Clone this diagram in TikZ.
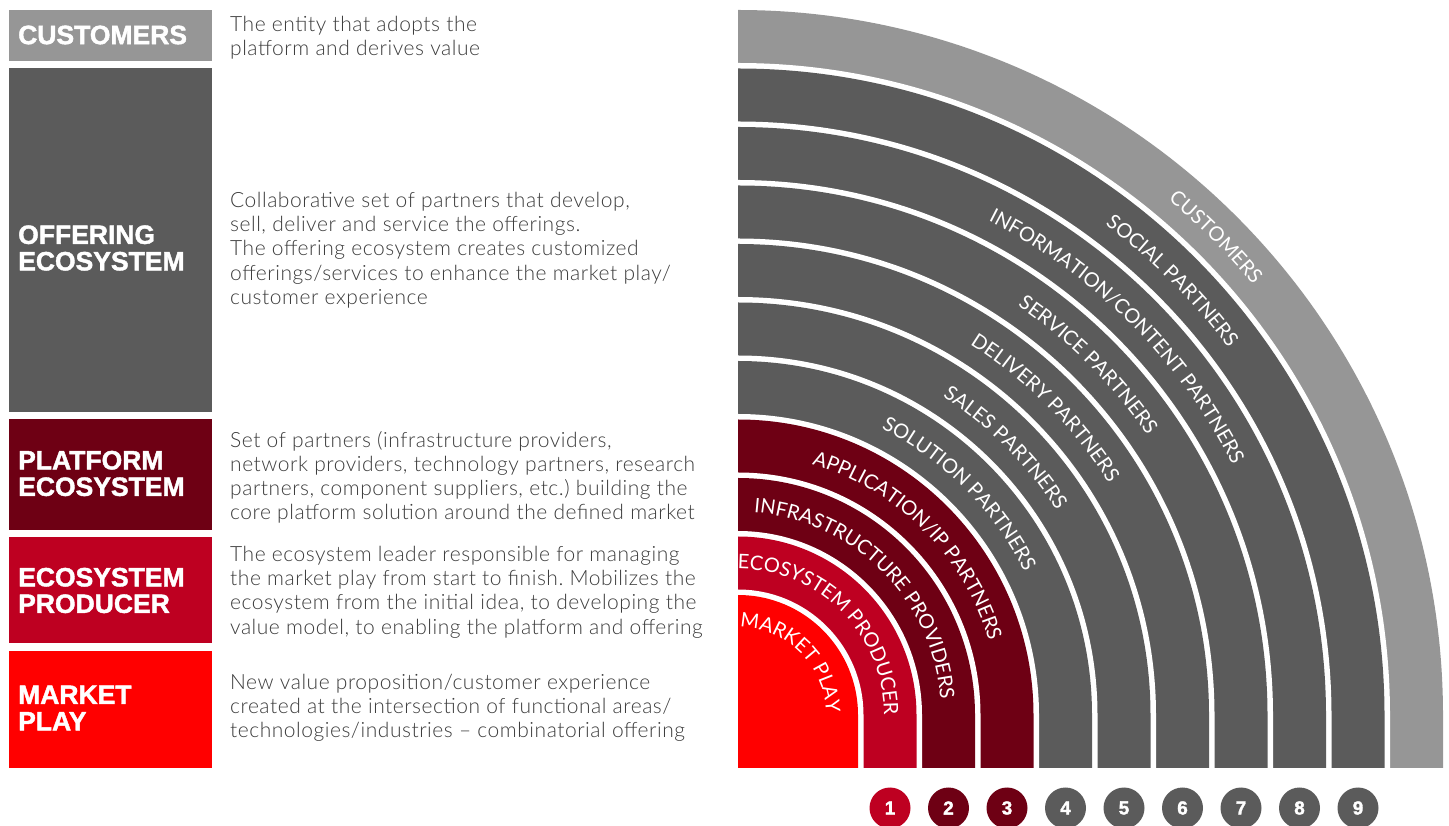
\documentclass[tikz,border=0pt]{standalone}
\usepackage{fontspec}
\setmainfont{Lato}[UprightFont=* Light, BoldFont=* Bold, LetterSpace=2.5]
\newfontfamily\headfont{Liberation Sans}[BoldFeatures={FakeBold=1.6}]
\newfontfamily\ringfont{Lato}
\usetikzlibrary{decorations.text}
\frenchspacing

\definecolor{mpred}{HTML}{FF0000}
\definecolor{eprod}{HTML}{BE0021}
\definecolor{platred}{HTML}{6E0014}
\definecolor{offgray}{HTML}{5B5B5B}
\definecolor{custgray}{HTML}{969696}
\definecolor{bodytext}{HTML}{3C3C3C}

\tikzset{
  headtext/.style={anchor=west, inner sep=0pt, align=left, text=white,
    font=\headfont\bfseries\fontsize{26.5}{26.5}\selectfont},
  bodytext/.style={anchor=north west, inner sep=0pt, align=left, text=bodytext,
    font=\fontsize{21}{24.2}\selectfont},
  numdot/.style={circle, minimum size=41pt, inner sep=0pt, text=white,
    font=\headfont\bfseries\fontsize{19}{19}\selectfont},
}
\newcommand\arcfont{\ringfont\fontsize{20}{20}\selectfont\color{white}}
% quarter band: radius #1, colour #2, straight down to the base line
\newcommand\fanband[2]{\fill[#2] (738,57) -- (738,{110+#1})
  arc[start angle=90, end angle=0, radius=#1] -- ({738+#1},57) -- cycle;}
\newcommand\fanlabel[2]{\path[decorate, decoration={text along path,
  text align=center, text={|\arcfont|#2}}] (738,{110+#1})
  arc[start angle=90, end angle=0, radius=#1];}

\begin{document}
\begin{tikzpicture}[x=1pt, y=1pt]
\useasboundingbox (0,0) rectangle (1449,825);

% left column
\fill[custgray] (9,764) rectangle (212,815);
\fill[offgray] (9,413) rectangle (212,757);
\fill[platred] (9,295) rectangle (212,406);
\fill[eprod] (9,182) rectangle (212,288);
\fill[mpred] (9,57) rectangle (212,174);

\node[headtext] (hcust) at (18,790) {CUSTOMERS};
\node[headtext] (hoff) at (18,577) {OFFERING\\ECOSYSTEM};
\node[headtext] (hplat) at (18,351.5) {PLATFORM\\ECOSYSTEM};
\node[headtext] (hprod) at (18,234.5) {ECOSYSTEM\\PRODUCER};
\node[headtext] (hmkt) at (18,117) {MARKET\\PLAY};

\node[bodytext] (tcust) at (230,809) {The entity that adopts the\\
  platform and derives value};
\node[bodytext] (toff) at (230,633) {Collaborative set of partners that develop,\\
  sell, deliver and service the offerings.\\
  The offering ecosystem creates customized\\
  offerings/services to enhance the market play/\\
  customer experience};
\node[bodytext] (tplat) at (230,394) {Set of partners (infrastructure providers,\\
  network providers, technology partners, research\\
  partners, component suppliers, etc.) building the\\
  core platform solution around the defined market};
\node[bodytext] (tprod) at (230,279) {The ecosystem leader responsible for managing\\
  the market play from start to finish. Mobilizes the\\
  ecosystem from the initial idea, to developing the\\
  value model, to enabling the platform and offering};
\node[bodytext] (tmkt) at (230,151) {New value proposition/customer experience\\
  created at the intersection of functional areas/\\
  technologies/industries -- combinatorial offering};

% fan of bands, outermost first
\foreach \r/\c/\w in {705/custgray/652, 646.5/offgray/593.5, 588/offgray/535,
    529.5/offgray/476.5, 471/offgray/418, 412.5/offgray/359.5, 354/offgray/301,
    295.5/platred/242.5, 237/platred/184, 178.5/eprod/125.5}{
  \fanband{\r}{\c}
  \fanband{\w}{white}
}
\fanband{120}{mpred}

\fanlabel{671}{CUSTOMERS}
\fanlabel{612.5}{SOCIAL PARTNERS}
\fanlabel{554}{INFORMATION/CONTENT PARTNERS}
\fanlabel{495.5}{SERVICE PARTNERS}
\fanlabel{437}{DELIVERY PARTNERS}
\fanlabel{378.5}{SALES PARTNERS}
\fanlabel{320}{SOLUTION PARTNERS}
\fanlabel{261.5}{APPLICATION/IP PARTNERS}
\fanlabel{203}{INFRASTRUCTURE PROVIDERS}
\fanlabel{146}{ECOSYSTEM PRODUCER}
\fanlabel{88}{MARKET PLAY}

% numbered rings
\foreach \n/\x/\c in {1/890/eprod, 2/948.5/platred, 3/1007/platred,
    4/1065.5/offgray, 5/1124/offgray, 6/1182.5/offgray, 7/1241/offgray,
    8/1299.5/offgray, 9/1358/offgray}{
  \node[numdot, fill=\c] (n\n) at (\x,17) {\n};
}
\end{tikzpicture}
\end{document}
